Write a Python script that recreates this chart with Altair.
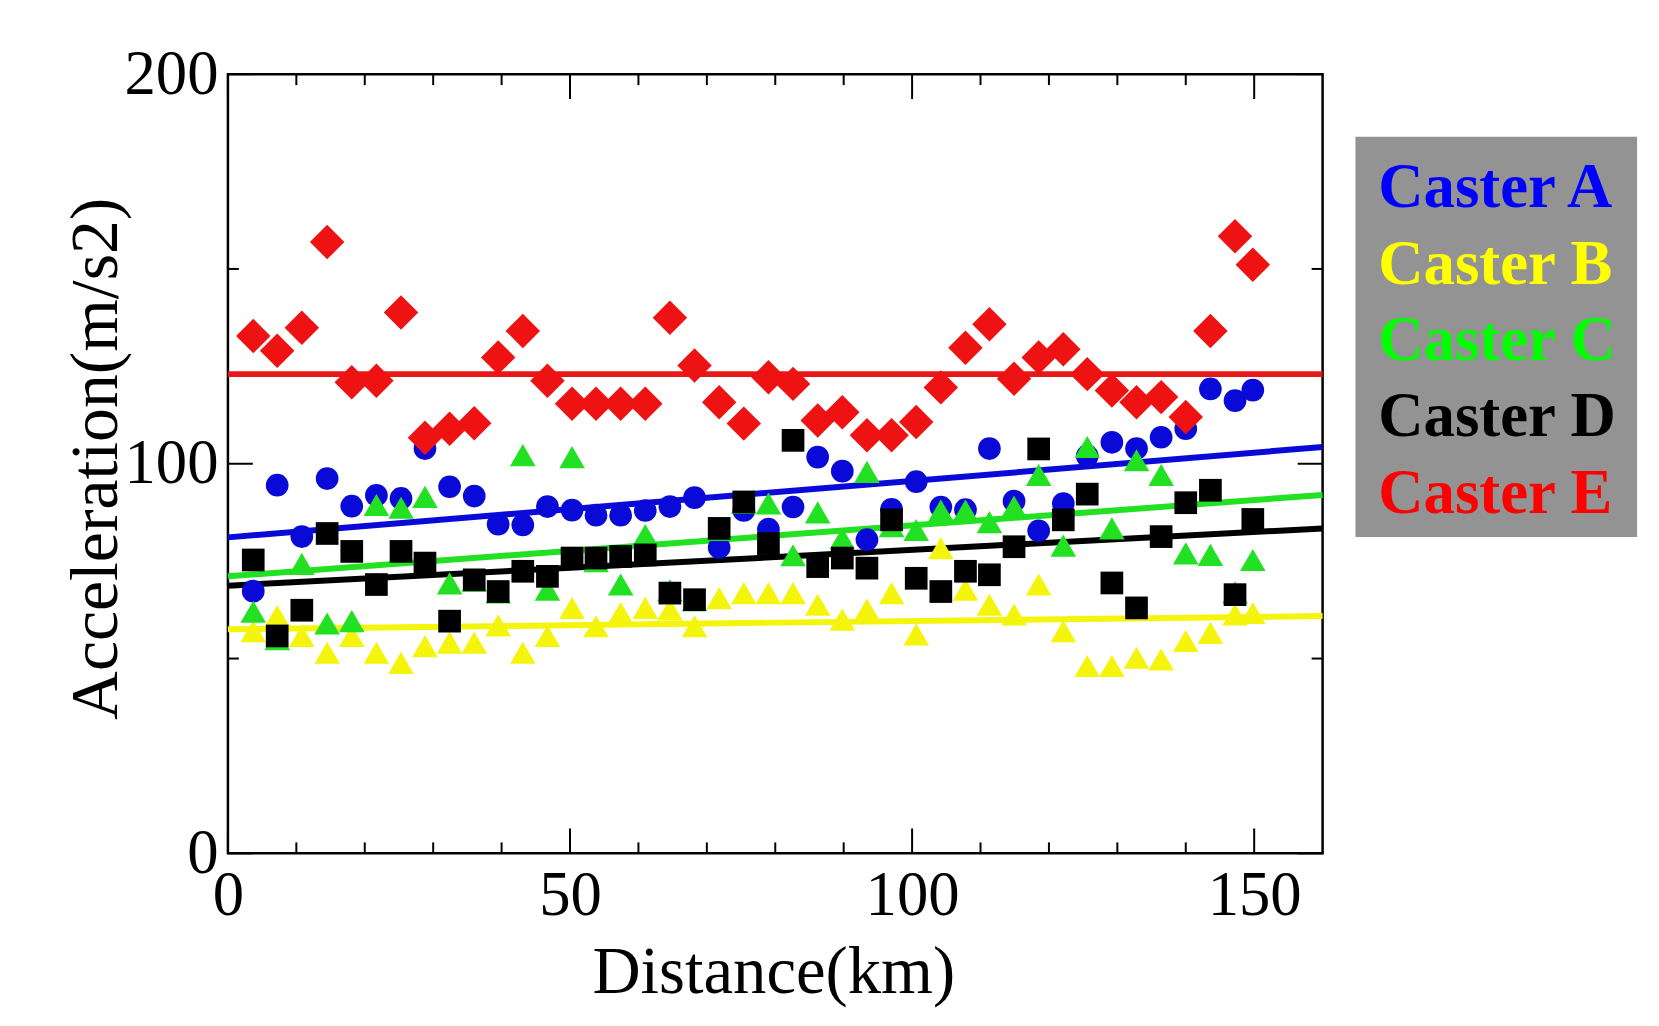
import altair as alt
import pandas as pd

# ---------------- data ----------------
x_km = [3.7, 7.2, 10.8, 14.5, 18.1, 21.7, 25.3, 28.8, 32.4, 36.0, 39.5, 43.1, 46.7, 50.3,
        53.8, 57.4, 61.0, 64.6, 68.2, 71.8, 75.4, 79.0, 82.6, 86.2, 89.8, 93.4, 97.0, 100.6,
        104.2, 107.8, 111.3, 114.9, 118.5, 122.1, 125.6, 129.2, 132.8, 136.4, 140.0, 143.6,
        147.2, 149.8]

caster_a = [67.3, 94.5, 81.3, 96.2, 89.1, 91.9, 91.1, 103.9, 94.1, 91.7, 84.5, 84.3, 89.0, 88.1,
            86.8, 86.8, 88.0, 89.0, 91.3, 78.5, 88.0, 83.2, 88.9, 101.7, 98.1, 80.5, 88.3, 95.4,
            88.9, 88.2, 103.9, 90.4, 82.8, 89.8, 102.0, 105.5, 103.9, 106.8, 109.0, 119.2,
            116.2, 118.9]
caster_b = [57.0, 60.9, 55.8, 51.5, 55.8, 51.5, 48.9, 53.2, 54.1, 54.1, 58.5, 51.5, 55.8, 63.0,
            58.3, 61.7, 63.0, 62.6, 58.3, 65.5, 66.8, 66.8, 66.8, 63.8, 60.0, 62.6, 66.8, 56.2,
            78.3, 67.7, 63.8, 61.3, 69.0, 57.0, 48.1, 48.1, 50.2, 49.8, 54.5, 56.6, 61.3, 61.7]
caster_c = [62.0, 55.0, 74.3, 59.0, 59.6, 89.4, 88.7, 91.5, 69.3, 70.0, 67.0, 102.2, 67.7, 101.7,
            75.0, 69.0, 81.7, 67.5, 65.0, 83.0, 90.0, 89.8, 76.5, 87.5, 80.8, 97.9, 84.0, 83.0,
            88.0, 88.0, 85.0, 89.0, 97.1, 79.0, 104.3, 83.4, 100.9, 97.1, 77.0, 76.6, 67.0, 75.3]
caster_d = [75.3, 55.8, 62.4, 82.1, 77.5, 69.0, 77.5, 74.5, 59.6, 70.2, 67.2, 72.4, 71.1, 75.8,
            75.8, 76.2, 76.6, 66.8, 65.1, 83.4, 90.2, 79.5, 106.0, 73.6, 75.8, 73.2, 85.6, 70.6,
            67.2, 72.4, 71.5, 78.7, 103.8, 85.6, 92.2, 69.4, 63.0, 81.3, 90.0, 93.2, 66.4, 85.7]
caster_e = [132.8, 129.0, 134.9, 156.9, 120.9, 121.3, 138.8, 106.7, 109.0, 110.4, 127.3, 134.1,
            121.3, 115.4, 115.4, 115.4, 115.4, 137.5, 125.2, 115.8, 110.3, 122.2, 120.5, 111.1,
            113.2, 107.3, 107.3, 110.7, 119.6, 129.8, 135.8, 121.8, 127.3, 129.4, 123.0, 118.8,
            115.8, 117.1, 112.0, 134.1, 158.4, 151.1]

series_names = ["Caster A", "Caster B", "Caster C", "Caster D", "Caster E"]
series_values = [caster_a, caster_b, caster_c, caster_d, caster_e]

# fitted straight lines: value at x = 0 and at x = 160
fit_x = [0, 160]
fit_a = [81.1, 104.3]
fit_b = [57.5, 60.9]
fit_c = [71.1, 92.0]
fit_d = [68.7, 83.4]
fit_e = [123.0, 123.0]
fit_values = [fit_a, fit_b, fit_c, fit_d, fit_e]

x_major = [0, 50, 100, 150]
x_minor = [10, 20, 30, 40, 60, 70, 80, 90, 110, 120, 130, 140]
y_major = [0, 100, 200]
y_minor = [50, 150]

# ---------------- styles ----------------
point_color = {"Caster A": "#0a0ad8", "Caster B": "#f4f40c", "Caster C": "#22e022",
               "Caster D": "#000000", "Caster E": "#ee1212"}
line_color = {"Caster A": "#0a0ad8", "Caster B": "#f4f40c", "Caster C": "#22e022",
              "Caster D": "#000000", "Caster E": "#e81818"}
legend_color = {"Caster A": "#0000ff", "Caster B": "#ffff00", "Caster C": "#00ff00",
                "Caster D": "#000000", "Caster E": "#ff0000"}
shape_of = {"Caster A": "circle", "Caster B": "triangle-up", "Caster C": "triangle-up",
            "Caster D": "square", "Caster E": "diamond"}
size_of = {"Caster A": 520, "Caster B": 660, "Caster C": 660, "Caster D": 520, "Caster E": 1200}

W, H = 1100, 783
FONT = "Liberation Serif"

xs = alt.Scale(domain=[0, 160], nice=False, zero=False)
ys = alt.Scale(domain=[0, 200], nice=False, zero=False)

rows = []
for name, vals in zip(series_names, series_values):
    for xv, yv in zip(x_km, vals):
        rows.append({"series": name, "x": xv, "y": yv})
pts = pd.DataFrame(rows)

frows = []
for name, vals in zip(series_names, fit_values):
    for xv, yv in zip(fit_x, vals):
        frows.append({"series": name, "x": xv, "y": yv})
fits = pd.DataFrame(frows)

x_axis = alt.Axis(
    values=x_major, format="d", grid=False, ticks=False, tickSize=0, domain=False,
    labelFont=FONT, labelFontSize=63, labelColor="black", labelBaseline="alphabetic",
    labelPadding=61, labelFlush=False, labelOverlap=False,
    title="Distance(km)", titleFont=FONT, titleFontSize=67, titleFontWeight="normal",
    titleColor="black", titleBaseline="alphabetic", titleY=140, titleX=548,
    titleAlign="center")
y_axis = alt.Axis(
    values=y_major, format="d", grid=False, ticks=False, tickSize=0, domain=False,
    labelFont=FONT, labelFontSize=63, labelColor="black", labelBaseline="middle",
    labelAlign="right", labelPadding=10, labelFlush=False, labelOverlap=False,
    title="Acceleration(m/s2)", titleFont=FONT, titleFontSize=68,
    titleFontWeight="normal", titleColor="black", titleBaseline="alphabetic",
    titleAngle=270, titleX=-112, titleY=386, titleAlign="center")

layers = []

# fit lines (the first one carries the axes)
first = True
for name in ["Caster B", "Caster A", "Caster C", "Caster D", "Caster E"]:
    if first:
        enc = dict(x=alt.X("x:Q", scale=xs, axis=x_axis), y=alt.Y("y:Q", scale=ys, axis=y_axis))
        first = False
    else:
        enc = dict(x=alt.X("x:Q", scale=xs), y=alt.Y("y:Q", scale=ys))
    layers.append(
        alt.Chart(fits).transform_filter(alt.datum.series == name)
        .mark_line(color=line_color[name], strokeWidth=6)
        .encode(**enc)
    )

# points, bottom to top
for name in ["Caster B", "Caster A", "Caster C", "Caster D", "Caster E"]:
    layers.append(
        alt.Chart(pts).transform_filter(alt.datum.series == name)
        .mark_point(shape=shape_of[name], size=size_of[name], filled=True, opacity=1,
                    color=point_color[name], strokeWidth=0)
        .encode(x=alt.X("x:Q", scale=xs), y=alt.Y("y:Q", scale=ys))
    )

# inward ticks on all four sides
def xticks(vals, length):
    d = pd.DataFrame({"x": vals})
    bottom = alt.Chart(d).mark_rule(color="black", strokeWidth=2).encode(
        x=alt.X("x:Q", scale=xs), y=alt.value(H), y2=alt.value(H - length))
    top = alt.Chart(d).mark_rule(color="black", strokeWidth=2).encode(
        x=alt.X("x:Q", scale=xs), y=alt.value(0), y2=alt.value(length))
    return [bottom, top]

def yticks(vals, length):
    d = pd.DataFrame({"y": vals})
    left = alt.Chart(d).mark_rule(color="black", strokeWidth=2).encode(
        y=alt.Y("y:Q", scale=ys), x=alt.value(0), x2=alt.value(length))
    right = alt.Chart(d).mark_rule(color="black", strokeWidth=2).encode(
        y=alt.Y("y:Q", scale=ys), x=alt.value(W), x2=alt.value(W - length))
    return [left, right]

layers += xticks(x_major, 25) + xticks(x_minor, 11)
layers += yticks(y_major, 25) + yticks(y_minor, 11)

# legend box
box = alt.Chart(pd.DataFrame({"k": [0]})).mark_rect(color="#939393").encode(
    x=alt.value(1133), x2=alt.value(1416), y=alt.value(63), y2=alt.value(465))
layers.append(box)
legend_baselines = [134, 211, 287, 364, 441]
for name, yb in zip(series_names, legend_baselines):
    layers.append(
        alt.Chart(pd.DataFrame({"label": [name]})).mark_text(
            font=FONT, fontSize=63, fontWeight="bold", align="left", baseline="alphabetic",
            color=legend_color[name])
        .encode(text="label:N", x=alt.value(1156), y=alt.value(yb))
    )

chart = alt.layer(*layers).properties(
    width=W, height=H,
    autosize=alt.AutoSizeParams(type="none"),
    padding={"left": 221, "top": 64, "right": 330, "bottom": 165},
    background="white",
).configure_view(stroke="black", strokeWidth=2.5)

chart.save("out.html", embed_options={"renderer": "svg", "actions": False})
